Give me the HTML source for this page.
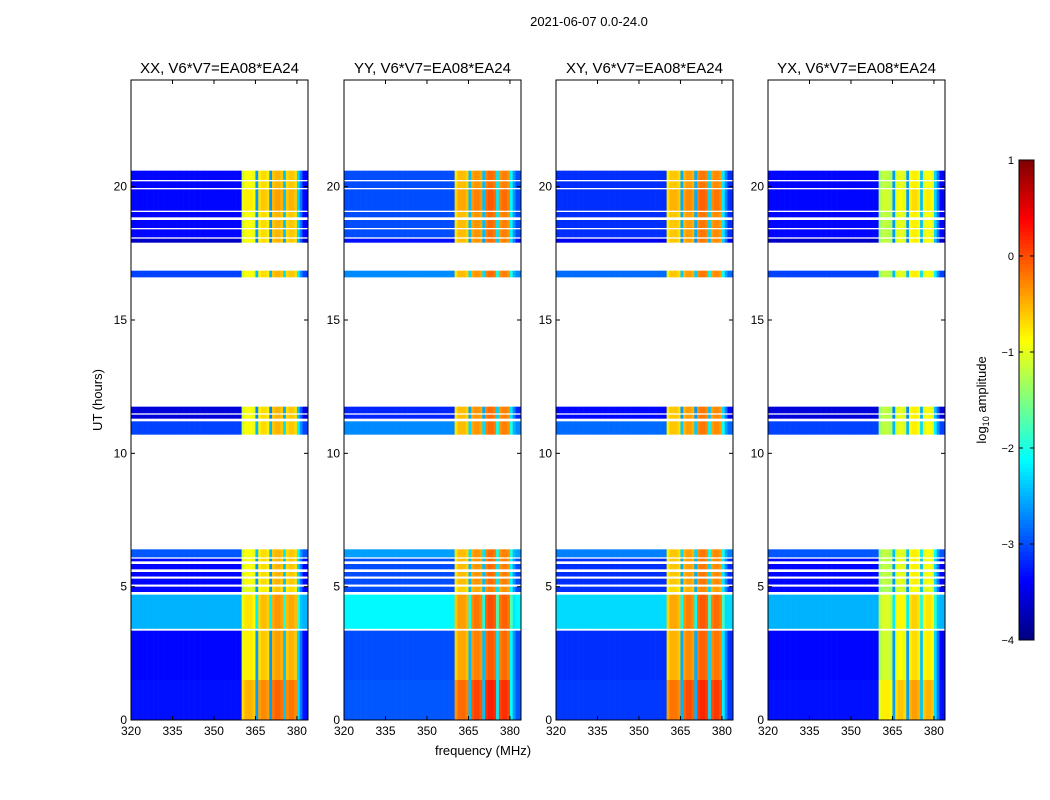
<!DOCTYPE html>
<html><head><meta charset="utf-8"><style>
html,body{margin:0;padding:0;background:#fff;}
svg{display:block;font-family:"Liberation Sans",sans-serif;}
</style></head><body>
<svg id="fig" width="1050" height="800" viewBox="0 0 1050 800">
<text x="589" y="26" font-size="13" text-anchor="middle">2021-06-07 0.0-24.0</text>
<text transform="translate(102,400) rotate(-90)" font-size="13" text-anchor="middle">UT (hours)</text>
<text x="483" y="755" font-size="13" text-anchor="middle">frequency (MHz)</text>
<text transform="translate(986,400) rotate(-90)" font-size="13" text-anchor="middle">log<tspan font-size="9" dy="3">10</tspan><tspan dy="-3"> amplitude</tspan></text>
</svg>
<script>
// ---- data ----
const panelTitles = ["XX, V6*V7=EA08*EA24","YY, V6*V7=EA08*EA24","XY, V6*V7=EA08*EA24","YX, V6*V7=EA08*EA24"];
const panelOutLevel = [-3.35, -3.0, -3.15, -3.35];
const panelInOffset = [0.0, 0.35, 0.3, -0.3];
// channel frequencies (MHz) and in-band profile (log10 amp); gap channels are low
const channels = [];
for (let f = 320; f < 384; f++) channels.push(f);
const bandProfile = {360:-1.1,361:-0.9,362:-0.9,363:-0.9,364:-1.0,365:-2.6,366:-0.8,367:-0.7,368:-0.7,369:-0.8,370:-2.6,371:-0.6,372:-0.5,373:-0.5,374:-0.6,375:-2.4,376:-0.7,377:-0.6,378:-0.6,379:-0.7,380:-2.3,381:-2.8};
// time bands: [start hour, end hour, out-of-band offset, in-band offset]
const timeBands = [
 [0,1.5,0.05,0.4],[1.5,3.35,0,0.1],[3.42,4.7,0.85,0.15],[4.8,5.0,0,-0.1],[5.08,5.3,0,0],[5.38,5.55,0,0],[5.65,5.85,0,0],
 [5.95,6.05,0,0],[6.1,6.4,0.4,0],[10.7,11.2,0.3,0],[11.3,11.45,-0.2,0],[11.5,11.75,-0.2,0],
 [16.6,16.85,0.3,0],[17.9,18.05,-0.3,0],[18.1,18.4,0,0],[18.45,18.75,0,0],[18.85,19.05,0,0],
 [19.1,19.9,0,0.1],[19.95,20.2,0,0],[20.25,20.6,0,0]
];
const xTicks = [320,335,350,365,380];
const yTicks = [0,5,10,15,20];
const cbTicks = [1,0,-1,-2,-3,-4];

// ---- layout ----
const panelLeft = [131,344,556,768], pw = 177, plotTop = 80, plotBottom = 720;
const fx = (p,f) => panelLeft[p] + (f - 320) * (pw / 64);
const ty = h => plotBottom - (h / 24) * (plotBottom - plotTop);
const vmin = -4, vmax = 1;
function jet(v){
  let t = Math.max(0, Math.min(1, (v - vmin) / (vmax - vmin)));
  const c = x => Math.round(255 * Math.max(0, Math.min(1, 1.5 - Math.abs(x))));
  return `rgb(${c(4*t-3)},${c(4*t-2)},${c(4*t-1)})`;
}
const NS = "http://www.w3.org/2000/svg";
const svg = document.getElementById('fig');
function mk(tag, attrs, parent){
  const e = document.createElementNS(NS, tag);
  for (const k in attrs) e.setAttribute(k, attrs[k]);
  (parent || svg).appendChild(e); return e;
}
for (let p = 0; p < 4; p++){
  const g = mk('g', {});
  
  
  timeBands.forEach((b, bi) => {
    channels.forEach(f => {
      let v;
      if (f in bandProfile){
        const base = bandProfile[f];
        if (base < -2) v = base + (panelOutLevel[p] + 3.3) * 0.5 + b[2] * 0.5;
        else v = base + panelInOffset[p] + b[3];
      } else v = panelOutLevel[p] + b[2];
      const r = mk('rect', {x: fx(p,f).toFixed(2), y: ty(b[1]).toFixed(2), width: (pw/64 + 0.3).toFixed(2), height: (ty(b[0]) - ty(b[1])).toFixed(2), fill: jet(v)}, g);
      
      
    });
  });
  const fr = mk('rect', {x: panelLeft[p], y: plotTop, width: pw, height: plotBottom-plotTop, fill: 'none', stroke: '#000', 'stroke-width': 1});
  
  
  const t = mk('text', {x: panelLeft[p] + pw/2, y: 73, 'font-size': 15, 'text-anchor': 'middle'});
  t.textContent = panelTitles[p];
  
  
  xTicks.forEach(f => {
    const x = fx(p,f);
    mk('line', {x1:x, x2:x, y1:plotBottom, y2:plotBottom-4, stroke:'#000'});
    mk('line', {x1:x, x2:x, y1:plotTop, y2:plotTop+4, stroke:'#000'});
    const l = mk('text', {x:x, y:plotBottom+15, 'font-size':12, 'text-anchor':'middle'});
    l.textContent = f;
    
    
  });
  yTicks.forEach(h => {
    const y = ty(h);
    mk('line', {x1:panelLeft[p], x2:panelLeft[p]+4, y1:y, y2:y, stroke:'#000'});
    mk('line', {x1:panelLeft[p]+pw, x2:panelLeft[p]+pw-4, y1:y, y2:y, stroke:'#000'});
    const l = mk('text', {x:panelLeft[p]-4, y:y+4, 'font-size':12, 'text-anchor':'end'});
    l.textContent = h;
    
    
  });
}
// colorbar
const cbx = 1019, cbw = 15, cbt = 160, cbb = 640;
const cby = v => cbb - (v - vmin) / (vmax - vmin) * (cbb - cbt);
const cg = mk('g', {});


for (let i = 0; i < 120; i++){
  const v = vmin + (i + 0.5) * (vmax - vmin) / 120;
  mk('rect', {x:cbx, y:(cby(v) - 2.2).toFixed(2), width:cbw, height:4.4, fill:jet(v)}, cg);
}
mk('rect', {x:cbx, y:cbt, width:cbw, height:cbb-cbt, fill:'none', stroke:'#000'}, cg);
cbTicks.forEach(v => {
  const y = cby(v);
  mk('line', {x1:cbx, x2:cbx+4, y1:y, y2:y, stroke:'#000'}, cg);
  mk('line', {x1:cbx+cbw, x2:cbx+cbw-4, y1:y, y2:y, stroke:'#000'}, cg);
  const l = mk('text', {x:cbx-5, y:y+4, 'font-size':11, 'text-anchor':'end'}, cg);
  l.textContent = v === 1 || v === 0 ? v : '\u2212' + Math.abs(v);
  
  
});
</script>
</body></html>
